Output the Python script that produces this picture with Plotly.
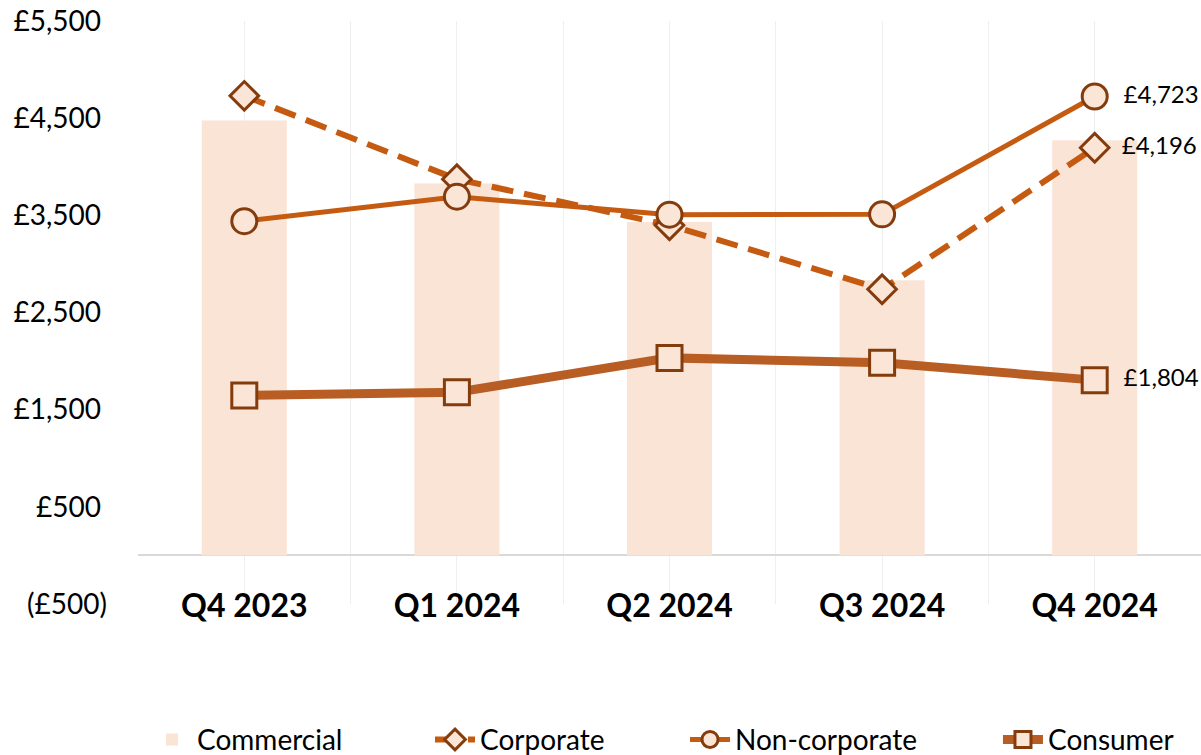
import plotly.graph_objects as go

categories = ["Q4 2023", "Q1 2024", "Q2 2024", "Q3 2024", "Q4 2024"]
commercial = [4477, 3827, 3432, 2831, 4272]
corporate = [4730, 3872, 3398, 2739, 4196]
non_corporate = [3440, 3692, 3507, 3510, 4723]
consumer = [1647, 1680, 2033, 1983, 1804]

y_tick_vals = [-500, 500, 1500, 2500, 3500, 4500, 5500]

def money(v):
    return f"(£{abs(v):,})" if v < 0 else f"£{v:,}\u2008"

y_tick_text = [money(v) for v in y_tick_vals]

def last_label(vals):
    return [""] * (len(vals) - 1) + [f"\u00a0\u00a0£{vals[-1]:,}"]

xs = list(range(len(categories)))

LINE = "#c55a11"
EDGE = "#843c0c"
FILL = "#fbe5d6"
FONT = "Lato"

fig = go.Figure()
fig.add_trace(go.Bar(x=xs, y=commercial, name="Commercial", width=0.4, legend="legend",
                     marker=dict(color="#fae4d6", line=dict(width=0))))
fig.add_trace(go.Scatter(x=xs, y=corporate, name="Corporate", mode="lines+markers+text",
                         legend="legend2",
                         line=dict(color=LINE, width=6, dash="22px,11px"),
                         marker=dict(symbol="diamond", size=22, color=FILL,
                                     line=dict(color=EDGE, width=3)),
                         text=last_label(corporate), textposition="middle right",
                         textfont=dict(size=24, color="#000000", family=FONT),
                         cliponaxis=False))
fig.add_trace(go.Scatter(x=xs, y=non_corporate, name="Non-corporate", mode="lines+markers+text",
                         legend="legend3",
                         line=dict(color=LINE, width=5),
                         marker=dict(symbol="circle", size=25, color=FILL,
                                     line=dict(color=EDGE, width=3)),
                         text=last_label(non_corporate), textposition="middle right",
                         textfont=dict(size=24, color="#000000", family=FONT),
                         cliponaxis=False))
fig.add_trace(go.Scatter(x=xs, y=consumer, name="Consumer", mode="lines+markers+text",
                         legend="legend4",
                         line=dict(color="#b85e24", width=9),
                         marker=dict(symbol="square", size=25, color=FILL,
                                     line=dict(color=EDGE, width=3)),
                         text=last_label(consumer), textposition="middle right",
                         textfont=dict(size=24, color="#000000", family=FONT),
                         cliponaxis=False))

def legend_at(x):
    return dict(orientation="h", x=x, xanchor="left", y=-0.19, yanchor="top",
                font=dict(size=28, family=FONT), itemwidth=40,
                bgcolor="rgba(0,0,0,0)")

fig.update_layout(
    width=1201, height=755,
    margin=dict(l=138, r=0, t=21, b=151, autoexpand=False),
    plot_bgcolor="white", paper_bgcolor="white",
    font=dict(family=FONT, color="#000000"),
    showlegend=True,
    legend=legend_at(0.0085),
    legend2=legend_at(0.2747),
    legend3=legend_at(0.5146),
    legend4=legend_at(0.809),
    xaxis=dict(range=[-0.5, 4.5], tickvals=xs, ticktext=categories,
               tickfont=dict(size=32, family=FONT, weight="bold"),
               showgrid=True, gridcolor="#efefef", gridwidth=1,
               minor=dict(tickvals=[x + 0.5 for x in [-1] + xs], showgrid=True,
                          gridcolor="#efefef", gridwidth=1),
               showline=False, zeroline=False, ticks="", ticklabelstandoff=-20),
    yaxis=dict(range=[-500, 5500], tickvals=y_tick_vals, ticktext=y_tick_text,
               tickfont=dict(size=28, family=FONT),
               showgrid=False, zeroline=True, zerolinecolor="#d9d9d9", zerolinewidth=2,
               showline=False, ticks="", ticklabelstandoff=30),
    bargap=0.6,
)

fig.write_html("out.html", config={"displayModeBar": False},
               post_script="document.body.style.margin='0px';document.body.style.overflow='hidden';")
